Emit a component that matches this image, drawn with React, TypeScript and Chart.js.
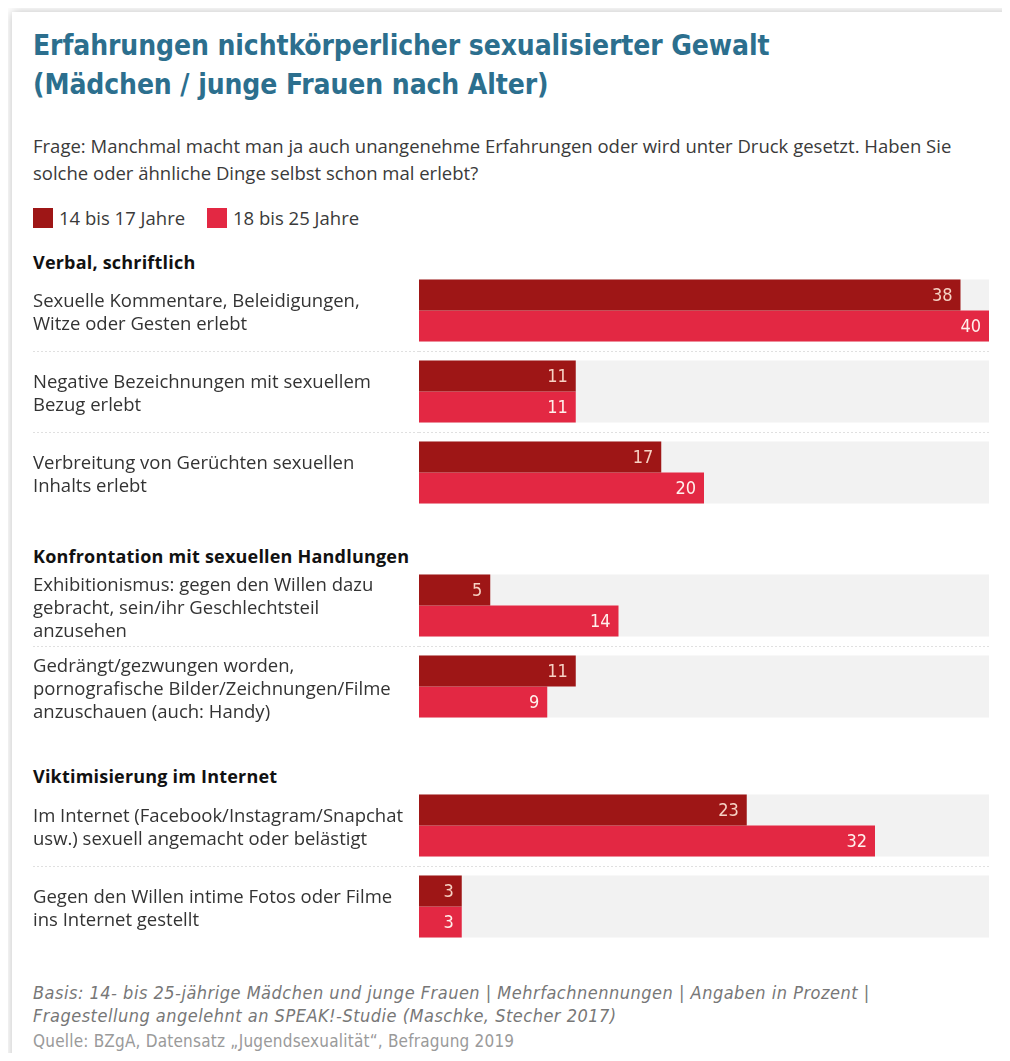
import React, { useEffect, useRef } from 'react';
import { Chart, registerables } from 'chart.js';

Chart.register(...registerables);

const seriesNames = ['14 bis 17 Jahre', '18 bis 25 Jahre'];
const groupTitles = ['Verbal, schriftlich', 'Konfrontation mit sexuellen Handlungen', 'Viktimisierung im Internet'];

const verbalLabels = [
  ['Sexuelle Kommentare, Beleidigungen,', 'Witze oder Gesten erlebt'],
  ['Negative Bezeichnungen mit sexuellem', 'Bezug erlebt'],
  ['Verbreitung von Gerüchten sexuellen', 'Inhalts erlebt'],
];
const verbal14to17 = [38, 11, 17];
const verbal18to25 = [40, 11, 20];

const konfrontationLabels = [
  ['Exhibitionismus: gegen den Willen dazu', 'gebracht, sein/ihr Geschlechtsteil', 'anzusehen'],
  ['Gedrängt/gezwungen worden,', 'pornografische Bilder/Zeichnungen/Filme', 'anzuschauen (auch: Handy)'],
];
const konfrontation14to17 = [5, 11];
const konfrontation18to25 = [14, 9];

const internetLabels = [
  ['Im Internet (Facebook/Instagram/Snapchat', 'usw.) sexuell angemacht oder belästigt'],
  ['Gegen den Willen intime Fotos oder Filme', 'ins Internet gestellt'],
];
const internet14to17 = [23, 3];
const internet18to25 = [32, 3];

const axisMax = 40;

const DARK = '#9e1616';
const BRIGHT = '#e32843';
const ROW_BG = '#f2f2f2';
const SEP = '#e0e0e0';
const BODY = '"Open Sans", "Noto Sans", sans-serif';
const COND = '"DejaVu Sans Condensed", "DejaVu Sans", sans-serif';

const rowBgPlugin = {
  id: 'rowBg',
  beforeDatasetsDraw(chart: any) {
    const { ctx, chartArea } = chart;
    const m0 = chart.getDatasetMeta(0);
    const m1 = chart.getDatasetMeta(1);
    ctx.save();
    ctx.fillStyle = ROW_BG;
    m0.data.forEach((bar: any, i: number) => {
      const b2 = m1.data[i];
      const top = bar.y - bar.height / 2;
      const bottom = b2.y + b2.height / 2;
      ctx.fillRect(chartArea.left, top, chartArea.right - chartArea.left, bottom - top);
    });
    ctx.restore();
  },
};

const valuePlugin = {
  id: 'values',
  afterDatasetsDraw(chart: any) {
    const { ctx } = chart;
    ctx.save();
    ctx.font = `18px ${COND}`;
    ctx.textAlign = 'right';
    ctx.textBaseline = 'middle';
    chart.data.datasets.forEach((ds: any, di: number) => {
      const meta = chart.getDatasetMeta(di);
      ctx.fillStyle = di === 0 ? '#f6d2c4' : '#fff0ec';
      meta.data.forEach((bar: any, i: number) => {
        ctx.fillText(String(ds.data[i]), bar.x - 8, bar.y + 1);
      });
    });
    ctx.restore();
  },
};

type GroupProps = {
  labels: string[][];
  a: number[];
  b: number[];
  top: number;
  left: number;
  width: number;
  height: number;
};

function GroupChart({ labels, a, b, top, left, width, height }: GroupProps) {
  const ref = useRef<HTMLCanvasElement>(null);
  useEffect(() => {
    const sepColor = (c: any) => (c.type !== 'tick' || c.index === 0 ? 'rgba(0,0,0,0)' : SEP);
    const chart = new Chart(ref.current as HTMLCanvasElement, {
      type: 'bar',
      data: {
        labels,
        datasets: [
          { label: seriesNames[0], data: a, backgroundColor: DARK, barPercentage: 1, categoryPercentage: 62 / 81 },
          { label: seriesNames[1], data: b, backgroundColor: BRIGHT, barPercentage: 1, categoryPercentage: 62 / 81 },
        ],
      },
      options: {
        indexAxis: 'y',
        animation: false,
        responsive: false,
        maintainAspectRatio: false,
        layout: { padding: 0 },
        scales: {
          x: { min: 0, max: axisMax, display: false },
          y: {
            offset: true,
            grid: {
              offset: true,
              color: sepColor,
              tickColor: sepColor,
              lineWidth: 1,
              drawTicks: true,
              tickLength: 386,
              tickWidth: 1,
              tickBorderDash: [2, 2],
            },
            border: { display: false, dash: [2, 2] },
            ticks: {
              crossAlign: 'far',
              padding: 0,
              labelOffset: 3,
              autoSkip: false,
              color: '#333333',
              font: { family: BODY, size: 18.5, lineHeight: 23 / 18.5 },
            },
            afterFit(scale: any) {
              scale.width = 386;
              scale.paddingTop = 0;
              scale.paddingBottom = 0;
            },
          },
        },
        plugins: { legend: { display: false }, tooltip: { enabled: false } },
      } as any,
      plugins: [rowBgPlugin, valuePlugin],
    });
    return () => chart.destroy();
  }, []);
  return (
    <canvas
      ref={ref}
      width={width}
      height={height}
      style={{ position: 'absolute', left, top, width, height }}
    />
  );
}

const abs = (left: number, top: number, extra: React.CSSProperties = {}): React.CSSProperties => ({
  position: 'absolute',
  left,
  top,
  whiteSpace: 'nowrap',
  ...extra,
});

const headerStyle = (top: number) =>
  abs(25, top, { font: `bold 18px/20px ${BODY}`, color: '#111', letterSpacing: '0.2px' });

export default function App() {
  return (
    <div style={{ position: 'relative', width: 994, height: 1045, overflow: 'hidden', background: '#fff' }}>
      <div
        style={{
          position: 'absolute',
          left: 4,
          top: 4,
          width: 1100,
          height: 1100,
          background: '#fff',
          boxShadow: '0 0 10px rgba(0,0,0,0.25)',
        }}
      />
      <div style={abs(25, 17.5, { font: `bold 28px/39px ${COND}`, color: '#2c6f8e', letterSpacing: '-0.1px' })}>
        Erfahrungen nichtkörperlicher sexualisierter Gewalt
        <br />
        (Mädchen / junge Frauen nach Alter)
      </div>
      <div style={abs(25, 123.5, { font: `18.5px/27px ${BODY}`, color: '#3a3a3a' })}>
        Frage: Manchmal macht man ja auch unangenehme Erfahrungen oder wird unter Druck gesetzt. Haben Sie
        <br />
        solche oder ähnliche Dinge selbst schon mal erlebt?
      </div>
      <div style={abs(25, 200, { width: 20, height: 20, background: DARK })} />
      <div style={abs(51, 199, { font: `18.5px/22px ${BODY}`, color: '#3a3a3a' })}>{seriesNames[0]}</div>
      <div style={abs(199, 200, { width: 20, height: 20, background: BRIGHT })} />
      <div style={abs(225, 199, { font: `18.5px/22px ${BODY}`, color: '#3a3a3a' })}>{seriesNames[1]}</div>

      <div style={headerStyle(244)}>{groupTitles[0]}</div>
      <GroupChart labels={verbalLabels} a={verbal14to17} b={verbal18to25} left={25} top={261.5} width={956} height={243} />

      <div style={headerStyle(538)}>{groupTitles[1]}</div>
      <GroupChart labels={konfrontationLabels} a={konfrontation14to17} b={konfrontation18to25} left={25} top={557} width={956} height={162} />

      <div style={headerStyle(758)}>{groupTitles[2]}</div>
      <GroupChart labels={internetLabels} a={internet14to17} b={internet18to25} left={25} top={776.5} width={956} height={162} />

      <div style={abs(25, 972.5, { font: `italic 18px/23px ${COND}`, color: '#777', letterSpacing: '0.5px' })}>
        Basis: 14- bis 25-jährige Mädchen und junge Frauen | Mehrfachnennungen | Angaben in Prozent |
        <br />
        Fragestellung angelehnt an SPEAK!-Studie (Maschke, Stecher 2017)
      </div>
      <div style={abs(25, 1023, { font: `17px/20px ${COND}`, color: '#9a9a9a', letterSpacing: '0.2px' })}>
        Quelle: BZgA, Datensatz „Jugendsexualität“, Befragung 2019
      </div>
    </div>
  );
}
